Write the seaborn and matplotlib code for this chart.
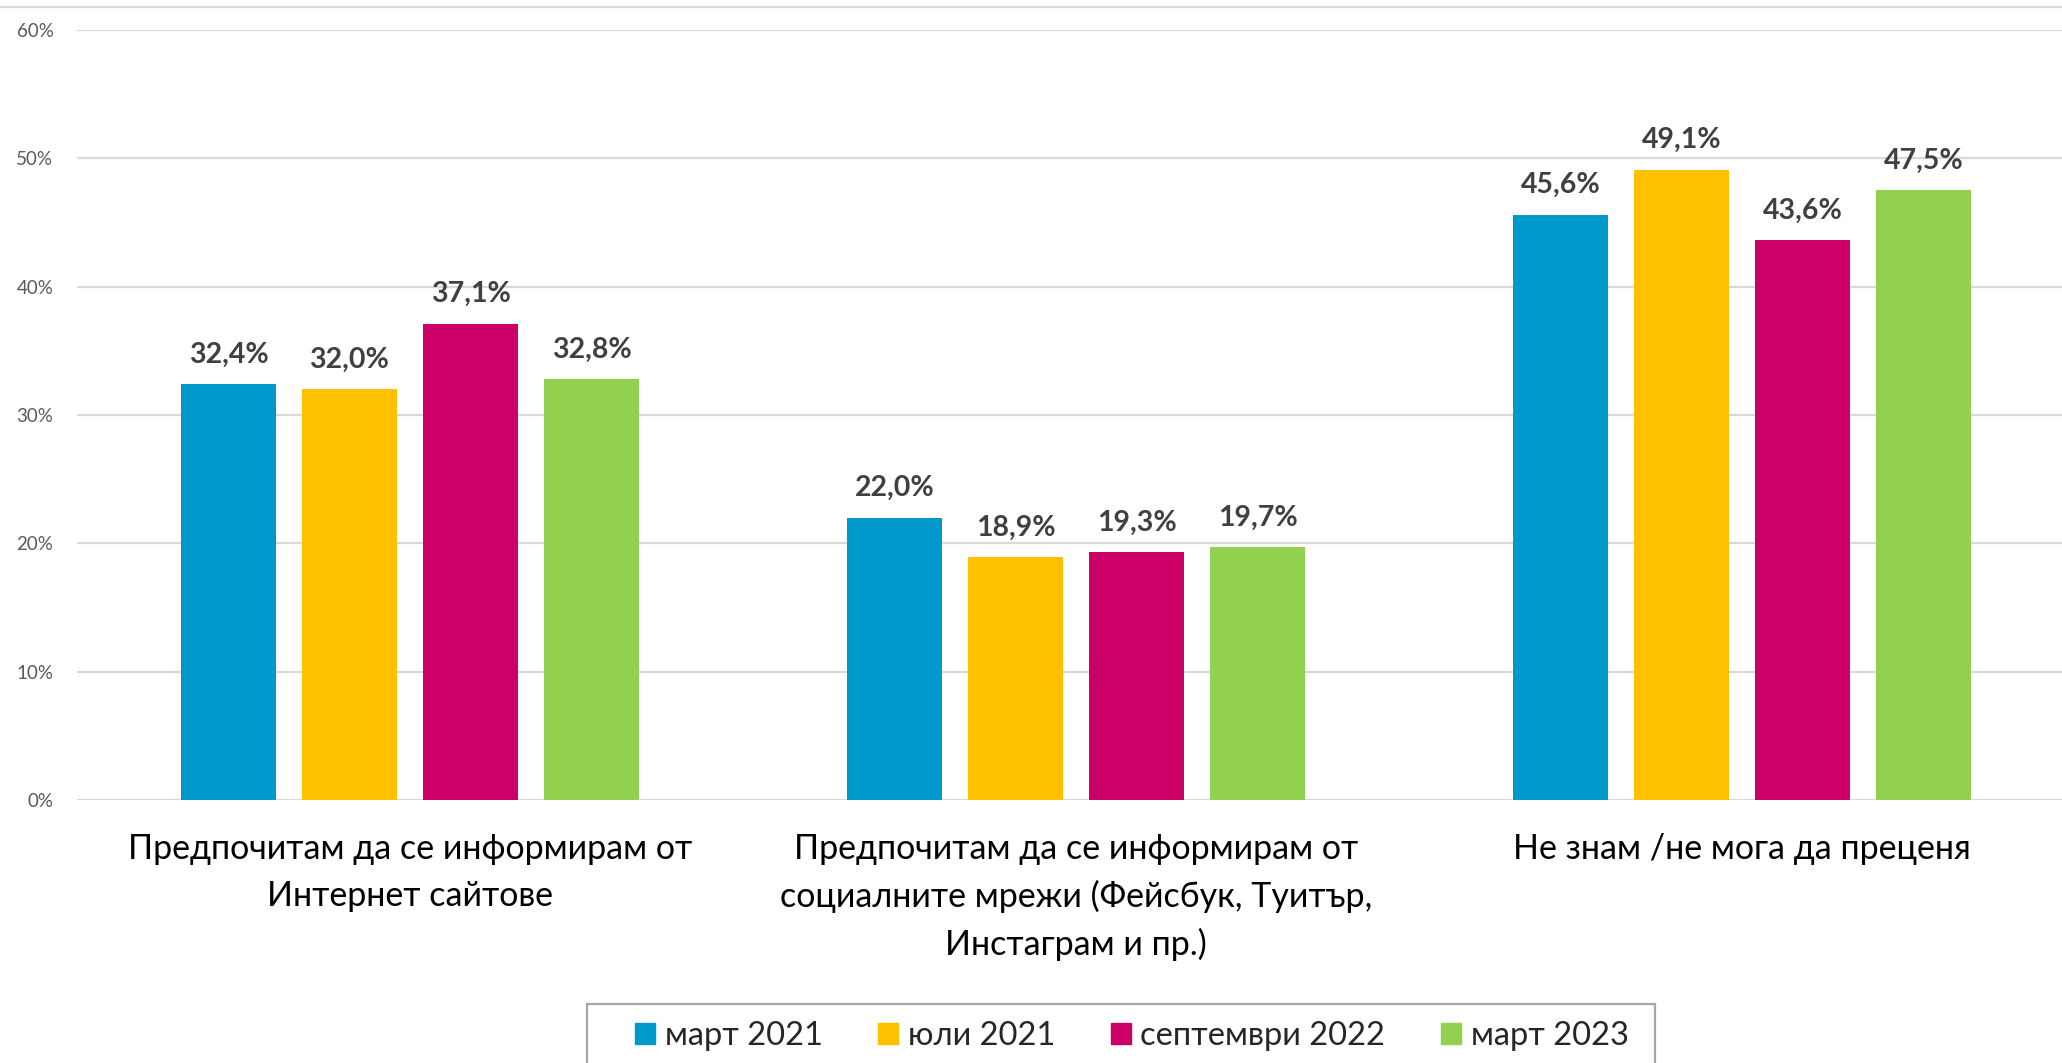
import matplotlib
matplotlib.use("Agg")
import matplotlib.pyplot as plt
from matplotlib.lines import Line2D
from matplotlib.patches import Rectangle
import seaborn as sns
import pandas as pd

categories = [
    "Предпочитам да се информирам от\nИнтернет сайтове",
    "Предпочитам да се информирам от\nсоциалните мрежи (Фейсбук, Туитър,\nИнстаграм и пр.)",
    "Не знам /не мога да преценя",
]
series_names = ["март 2021", "юли 2021", "септември 2022", "март 2023"]
values_mar2021 = [32.4, 22.0, 45.6]
values_jul2021 = [32.0, 18.9, 49.1]
values_sep2022 = [37.1, 19.3, 43.6]
values_mar2023 = [32.8, 19.7, 47.5]
y_ticks = [0, 10, 20, 30, 40, 50, 60]
colors = ["#0099CC", "#FFC000", "#CC0066", "#92D050"]

rows = []
for name, vals in zip(series_names, [values_mar2021, values_jul2021, values_sep2022, values_mar2023]):
    for cat, v in zip(categories, vals):
        rows.append({"cat": cat, "series": name, "value": v})
df = pd.DataFrame(rows)

sns.set_theme(style="white")
FONT = ["Lato", "Open Sans", "DejaVu Sans"]
plt.rcParams["font.family"] = FONT

W, H = 2062, 1063
fig = plt.figure(figsize=(W / 100, H / 100), dpi=100)
ax = fig.add_axes([77 / W, 1 - 800 / H, (2075 - 77) / W, (800 - 30) / H])

sns.barplot(data=df, x="cat", y="value", hue="series", order=categories,
            hue_order=series_names, palette=colors, width=0.727, gap=0.217,
            saturation=1, ax=ax, legend=False, edgecolor="none", linewidth=0)

ax.set_xlim(-0.5, 2.5)
ax.set_ylim(0, 60)
ax.set_yticks(y_ticks)
ax.set_yticklabels([f"{t}%" for t in y_ticks], fontsize=13.5, color="#595959")
ax.yaxis.grid(True, color="#D9D9D9", linewidth=1.6)
ax.set_axisbelow(True)
for s in ax.spines.values():
    s.set_visible(False)
ax.tick_params(axis="y", length=0, pad=17)
ax.tick_params(axis="x", length=0, pad=24)
ax.set_xlabel("")
ax.set_ylabel("")
for lbl in ax.get_xticklabels():
    lbl.set_fontsize(24.5)
    lbl.set_color("#000000")
    lbl.set_linespacing(1.55)
    lbl.set_multialignment("center")

for cont in ax.containers:
    labels = [f"{v:.1f}%".replace(".", ",") for v in cont.datavalues]
    ax.bar_label(cont, labels=labels, padding=12, fontsize=20.5, fontweight="bold",
                 color="#404040")

# top border line of chart area
fig.add_artist(Line2D([0, 1], [1 - 7 / H, 1 - 7 / H], transform=fig.transFigure,
                      color="#D9D9D9", linewidth=1.6))

# legend frame
fig.add_artist(Rectangle((587 / W, 1 - 1085 / H), (1655 - 587) / W, (1085 - 1004) / H,
                         transform=fig.transFigure, facecolor="white",
                         edgecolor="#A6A6A6", linewidth=1.6, zorder=2))

handles = [plt.Rectangle((0, 0), 1, 1, color=c) for c in colors]
leg = fig.legend(handles, series_names, loc="center left",
                 bbox_to_anchor=(635 / W, 1 - 1036 / H), bbox_transform=fig.transFigure,
                 ncol=4, fontsize=23.5, frameon=False,
                 handlelength=0.61, handleheight=0.61, handletextpad=0.3,
                 columnspacing=1.7, borderpad=0, borderaxespad=0)
leg.set_zorder(3)

fig.savefig("out.png", dpi=100)
